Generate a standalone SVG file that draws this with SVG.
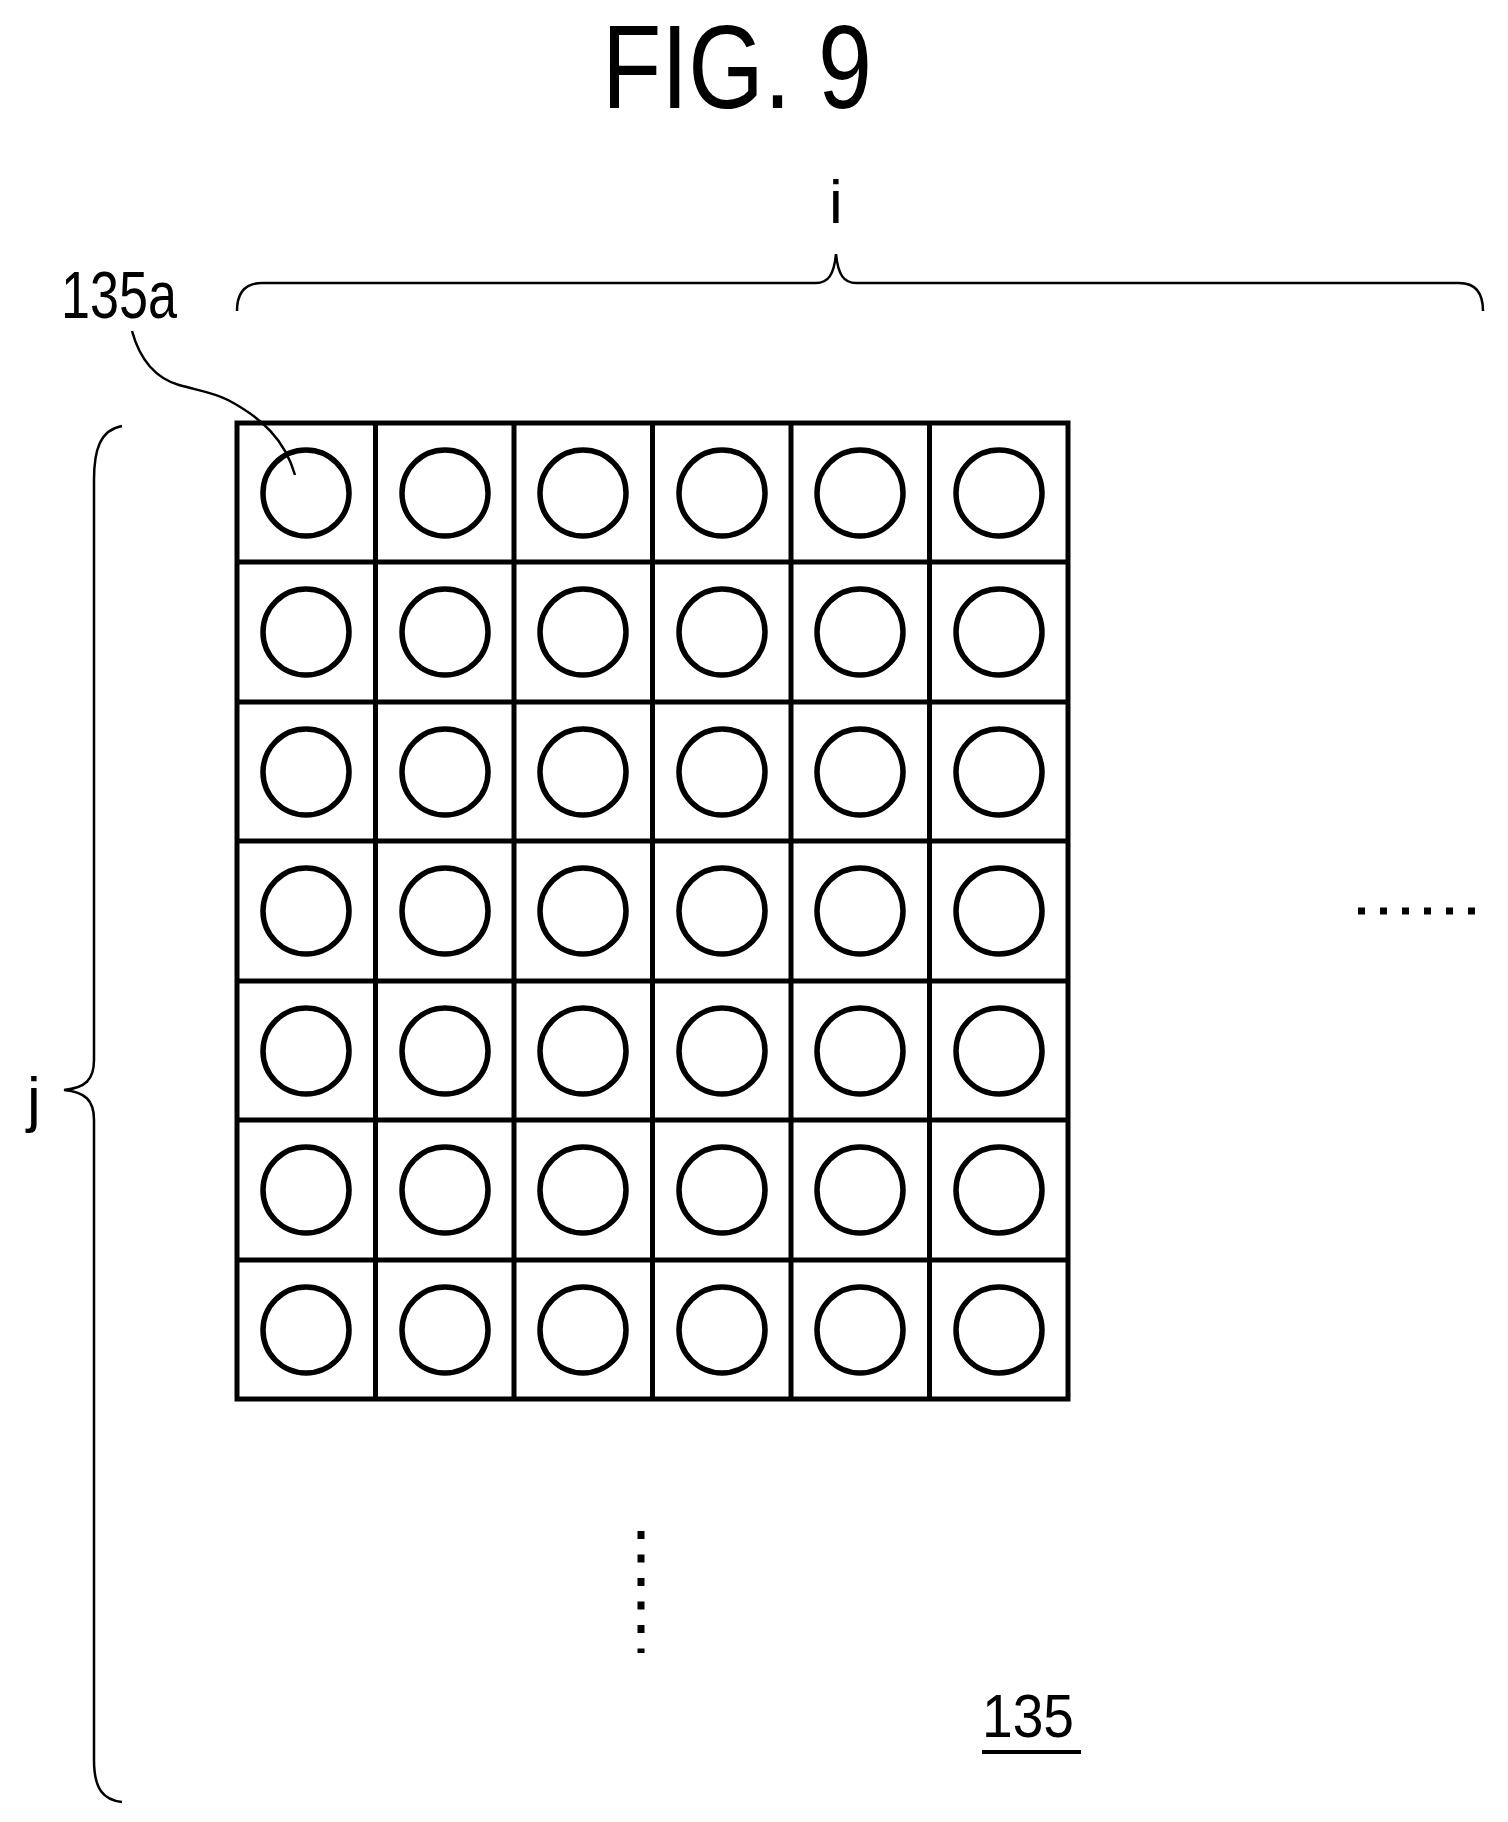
<svg xmlns="http://www.w3.org/2000/svg" width="1508" height="1822" viewBox="0 0 1508 1822">
<style>
.t{font-family:"Liberation Sans",Arial,sans-serif;fill:#000}
.g{fill:none;stroke:#000;stroke-width:5}
.c{fill:none;stroke:#000;stroke-width:5.5}
.l{fill:none;stroke:#000;stroke-width:2.5}
</style>
<rect width="1508" height="1822" fill="#fff"/>
<text class="t" x="737" y="108" font-size="118" text-anchor="middle" textLength="270" lengthAdjust="spacingAndGlyphs">FIG. 9</text>
<text class="t" x="836" y="223" font-size="62" text-anchor="middle">i</text>
<text class="t" x="61" y="318" font-size="66" textLength="116" lengthAdjust="spacingAndGlyphs">135a</text>
<text class="t" x="34" y="1120" font-size="62" text-anchor="middle">j</text>
<text class="t" x="982" y="1737" font-size="62" textLength="92" lengthAdjust="spacingAndGlyphs">135</text>
<g id="connectors">
<path class="l" d="M237,311 C237,295 243,283 262,283 L816,283 C828,283 834,275 836,254 C838,275 844,283 856,283 L1459,283 C1477,283 1483,295 1483,311"/>
<path class="l" d="M122,426 C100,430 94,450 94,480 L94,1060 C94,1080 85,1088 64,1090 C85,1092 94,1100 94,1120 L94,1760 C94,1790 104,1800 122,1802"/>
<path class="l" d="M132,331 C140,360 155,378 179,385 C200,391 212,392 228,400 C262,418 285,440 295,475"/>
<line x1="982" y1="1752" x2="1081" y2="1752" stroke="#000" stroke-width="4"/>
<line x1="1358" y1="911" x2="1479" y2="911" stroke="#000" stroke-width="7" stroke-dasharray="7 15"/>
<line x1="641" y1="1531" x2="641" y2="1653" stroke="#000" stroke-width="7" stroke-dasharray="8 15.5"/>
</g>
<g id="grid">
<rect class="g" x="237" y="423" width="831" height="976"/>
<path class="g" d="M375.5,423V1399M514,423V1399M652.5,423V1399M791,423V1399M929.5,423V1399M237,562H1068M237,702H1068M237,841H1068M237,981H1068M237,1120H1068M237,1260H1068"/>
</g>
<defs><g id="row"><circle class="c" cx="306" cy="0" r="43"/><circle class="c" cx="445" cy="0" r="43"/><circle class="c" cx="583" cy="0" r="43"/><circle class="c" cx="722" cy="0" r="43"/><circle class="c" cx="860" cy="0" r="43"/><circle class="c" cx="999" cy="0" r="43"/></g></defs>
<g id="cells">
<use href="#row" y="493"/><use href="#row" y="632"/><use href="#row" y="772"/><use href="#row" y="911"/><use href="#row" y="1051"/><use href="#row" y="1190"/><use href="#row" y="1330"/>
</g>
</svg>
